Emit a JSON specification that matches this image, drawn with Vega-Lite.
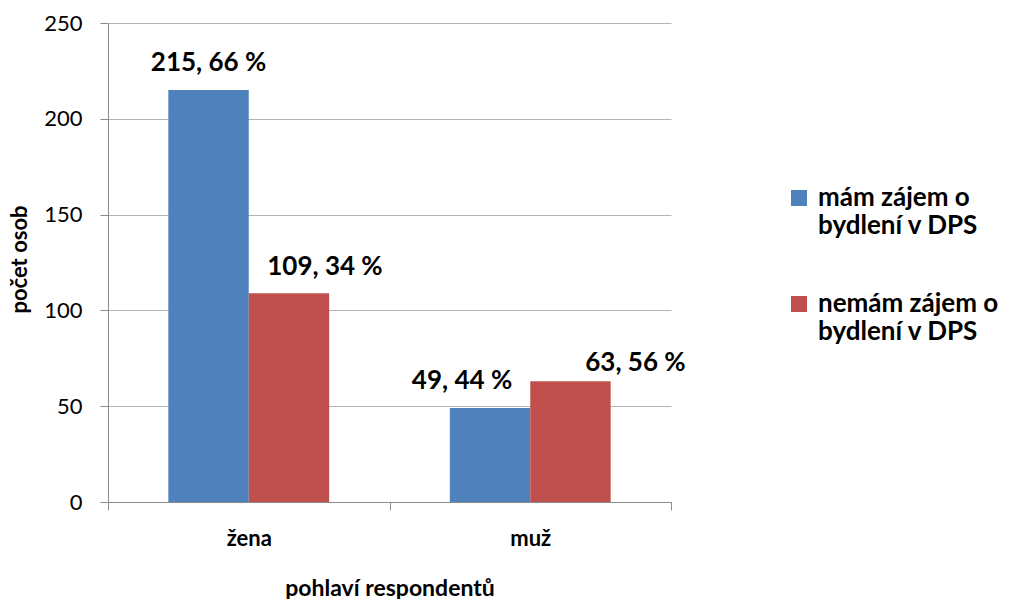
{
  "$schema": "https://vega.github.io/schema/vega-lite/v6.json",
  "width": 563,
  "height": 479,
  "autosize": {"type": "none"},
  "padding": {"left": 108, "top": 23, "right": 340, "bottom": 97},
  "background": "white",
  "config": {
    "font": "Lato",
    "view": {"stroke": null}
  },
  "data": {
    "values": [
      {"pohlavi": "žena", "zajem": "mám zájem o bydlení v DPS", "pocet": 215, "label": "215, 66 %"},
      {"pohlavi": "žena", "zajem": "nemám zájem o bydlení v DPS", "pocet": 109, "label": "109, 34 %"},
      {"pohlavi": "muž", "zajem": "mám zájem o bydlení v DPS", "pocet": 49, "label": "49, 44 %"},
      {"pohlavi": "muž", "zajem": "nemám zájem o bydlení v DPS", "pocet": 63, "label": "63, 56 %"}
    ]
  },
  "encoding": {
    "x": {
      "field": "pohlavi", "type": "nominal", "sort": ["žena", "muž"],
      "scale": {"paddingInner": 0, "paddingOuter": 0},
      "axis": {
        "title": "pohlaví respondentů", "titleFont": "Lato", "titleFontSize": 23, "titleFontWeight": "bold", "titleColor": "black",
        "titleBaseline": "alphabetic", "titleY": 93, "titleX": 281.5, "titleAlign": "center",
        "labelAngle": 0, "labelFontSize": 22, "labelFontWeight": "bold", "labelColor": "black", "labelPadding": 35, "labelBaseline": "alphabetic",
        "tickBand": "extent", "tickSize": 8, "tickColor": "#8c8c8c", "domainColor": "#8c8c8c", "grid": false
      }
    },
    "xOffset": {"field": "zajem", "type": "nominal", "scale": {"paddingInner": 0, "paddingOuter": 0.75}},
    "y": {
      "field": "pocet", "type": "quantitative",
      "scale": {"domain": [0, 250]},
      "axis": {
        "title": "počet osob", "titleFontSize": 22, "titleFontWeight": "bold", "titleColor": "black",
        "titleAngle": -90, "titleBaseline": "alphabetic", "titleAlign": "center", "titleX": -82, "titleY": 236,
        "values": [0, 50, 100, 150, 200, 250],
        "labelFontSize": 22, "labelColor": "black", "labelPadding": 18,
        "tickSize": 8, "tickColor": "#8c8c8c", "domainColor": "#8c8c8c",
        "grid": true, "gridColor": "#b4b4b4"
      }
    }
  },
  "layer": [
    {
      "mark": {"type": "bar"},
      "encoding": {
        "color": {
          "field": "zajem", "type": "nominal",
          "scale": {"domain": ["mám zájem o bydlení v DPS", "nemám zájem o bydlení v DPS"], "range": ["#4F81BD", "#C0504D"]},
          "legend": {
            "title": null, "orient": "none", "legendX": 678, "legendY": 162,
            "symbolType": "square", "symbolSize": 256, "symbolStrokeWidth": 0,
            "labelFontSize": 26, "labelFontWeight": "bold", "labelColor": "black", "labelLimit": 300,
            "labelBaseline": "middle", "labelOffset": 6, "labelLineHeight": 34,
            "rowPadding": 52,
            "labelExpr": "datum.label == 'mám zájem o bydlení v DPS' ? ['mám zájem o', 'bydlení v DPS'] : ['nemám zájem o', 'bydlení v DPS']"
          }
        }
      }
    },
    {
      "transform": [{"filter": "datum.label == '215, 66 %'"}],
      "mark": {"type": "text", "baseline": "alphabetic", "dy": -19, "fontSize": 26, "fontWeight": "bold", "color": "black"},
      "encoding": {"text": {"field": "label"}}
    },
    {
      "transform": [{"filter": "datum.label == '109, 34 %'"}],
      "mark": {"type": "text", "baseline": "alphabetic", "dy": -18, "dx": 36, "fontSize": 26, "fontWeight": "bold", "color": "black"},
      "encoding": {"text": {"field": "label"}}
    },
    {
      "transform": [{"filter": "datum.label == '49, 44 %'"}],
      "mark": {"type": "text", "baseline": "alphabetic", "dy": -19, "dx": -28, "fontSize": 26, "fontWeight": "bold", "color": "black"},
      "encoding": {"text": {"field": "label"}}
    },
    {
      "transform": [{"filter": "datum.label == '63, 56 %'"}],
      "mark": {"type": "text", "baseline": "alphabetic", "dy": -10, "dx": 65, "fontSize": 26, "fontWeight": "bold", "color": "black"},
      "encoding": {"text": {"field": "label"}}
    }
  ]
}
